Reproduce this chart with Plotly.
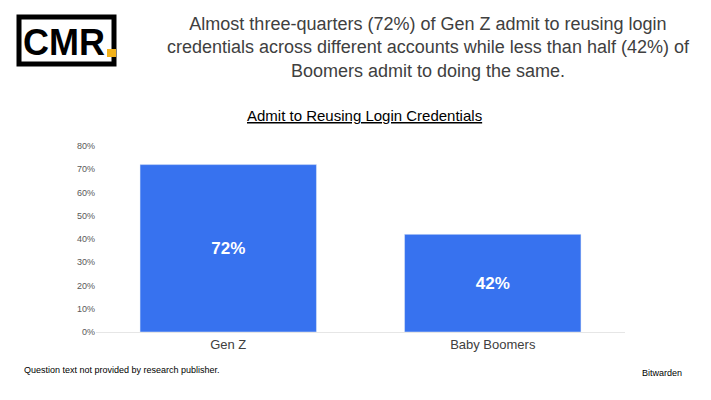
import plotly.graph_objects as go

categories = ["Gen Z", "Baby Boomers"]
values = [0.72, 0.42]
labels = ["72%", "42%"]

W, H = 711, 400
OFF = 8
L, R, T, B = 88, 94, 138, 76

fig = go.Figure(go.Bar(x=categories, y=values, marker_color="#3772EF", width=0.667,
                       text=labels, textposition="inside", insidetextanchor="middle",
                       textfont=dict(color="white", size=17, family="Liberation Sans")))
fig.update_traces(texttemplate="<b>%{text}</b>")

def px(x): return (x - OFF - L) / (W - L - R)
def py(y): return (H - B - (y - OFF)) / (H - T - B)

fig.update_layout(
    width=W, height=H, margin=dict(l=L, r=R, t=T, b=B),
    plot_bgcolor="white", paper_bgcolor="white", showlegend=False,
    font=dict(family="Liberation Sans, Arial", color="#404040"),
    yaxis=dict(range=[0, 0.8], tickformat=".0%", dtick=0.1, showgrid=False, zeroline=False,
               tickfont=dict(size=9, color="#595959"), ticks="", showline=False),
    xaxis=dict(showline=True, linecolor="#e6e6e6", tickfont=dict(size=13, color="#404040"), ticks=""),
    shapes=[dict(type="rect", xref="paper", yref="paper", x0=px(19), x1=px(114), y0=py(64), y1=py(17),
                 line=dict(color="black", width=5), fillcolor="white", layer="above"),
            dict(type="rect", xref="paper", yref="paper", x0=px(107), x1=px(116), y0=py(57), y1=py(49),
                 line=dict(width=0), fillcolor="#F2B21B")],
    annotations=[
        dict(text="<b>CMR</b>", xref="paper", yref="paper", x=px(64), y=py(42), showarrow=False,
             font=dict(size=36, color="black", family="Liberation Sans Narrow, Liberation Sans"),
             xanchor="center", yanchor="middle"),
        dict(text="Almost three-quarters (72%) of Gen Z admit to reusing login<br>credentials across different accounts while less than half (42%) of<br>Boomers admit to doing the same.",
             xref="paper", yref="paper", x=px(428), y=py(12), showarrow=False, xanchor="center", yanchor="top",
             font=dict(size=18, color="#404040"), align="center"),
        dict(text="<u>Admit to Reusing Login Credentials</u>", xref="paper", yref="paper", x=px(364), y=py(116),
             showarrow=False, xanchor="center", yanchor="middle", font=dict(size=15, color="black")),
        dict(text="Question text not provided by research publisher.", xref="paper", yref="paper",
             x=px(22), y=py(370), showarrow=False, xanchor="left", yanchor="middle", font=dict(size=9, color="black")),
        dict(text="Bitwarden", xref="paper", yref="paper", x=px(684), y=py(373), showarrow=False,
             xanchor="right", yanchor="middle", font=dict(size=9, color="black")),
    ],
)
fig.write_html("out.html")
